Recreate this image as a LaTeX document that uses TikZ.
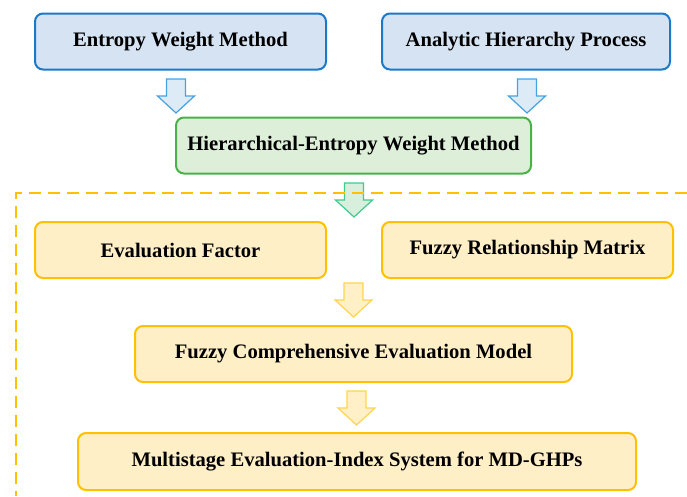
\documentclass[tikz,border=0pt]{standalone}
\usepackage{fontspec}
\setmainfont{Liberation Serif}
\definecolor{bfill}{HTML}{D6E3F3}
\definecolor{bdraw}{HTML}{1C78C8}
\definecolor{gfill}{HTML}{DDEFD9}
\definecolor{gdraw}{HTML}{4CB04A}
\definecolor{yfill}{HTML}{FFEFC6}
\definecolor{ydraw}{HTML}{FFC000}
\definecolor{bafill}{HTML}{DDEBF7}
\definecolor{badraw}{HTML}{45A2E0}
\definecolor{gafill}{HTML}{D9EFDD}
\definecolor{gadraw}{HTML}{3FCB8C}
\definecolor{yafill}{HTML}{FFF0C8}
\definecolor{yadraw}{HTML}{FFD44F}
\begin{document}
\begin{tikzpicture}[x=1pt,y=-1pt,
  box/.style={rectangle,rounded corners=8pt,line width=2pt,inner sep=0pt,
    minimum height=56pt,font=\fontsize{20.6}{24}\selectfont\bfseries},
  bluebox/.style={box,fill=bfill,draw=bdraw},
  greenbox/.style={box,fill=gfill,draw=gdraw},
  yellowbox/.style={box,fill=yfill,draw=ydraw},
  arr/.style={line width=1.2pt,line join=miter},
]
\useasboundingbox (0,0) rectangle (687,496);
% boxes
\node[bluebox,minimum width=291pt] (ewm) at (180.5,41.5) {Entropy Weight Method};
\node[bluebox,minimum width=288pt] (ahp) at (526,41.5) {Analytic Hierarchy Process};
\node[greenbox,minimum width=355pt] (hewm) at (353.5,145.5) {Hierarchical-Entropy Weight Method};
\node[yellowbox,minimum width=291pt] (ef) at (180.5,250) {Evaluation Factor};
\node[yellowbox,minimum width=291pt] (frm) at (527.5,250) {Fuzzy Relationship Matrix};
\node[yellowbox,minimum width=437pt] (fcem) at (353.5,354) {Fuzzy Comprehensive Evaluation Model};
\node[yellowbox,minimum width=558pt,minimum height=57pt] (meis) at (357,461.5) {Multistage Evaluation-Index System for MD-GHPs};
% block arrows
\newcommand{\blockarrow}[4]{% cx, top, fill, draw
  \draw[arr,fill=#3,draw=#4] (#1-9.5,#2) -- (#1+9.5,#2) -- (#1+9.5,#2+17) -- (#1+18.5,#2+17) -- (#1,#2+34) -- (#1-18.5,#2+17) -- (#1-9.5,#2+17) -- cycle;}
\blockarrow{176}{79}{bafill}{badraw}
\blockarrow{527}{79}{bafill}{badraw}
\blockarrow{354}{183}{gafill}{gadraw}
\blockarrow{353.5}{283}{yafill}{yadraw}
\blockarrow{356.5}{391}{yafill}{yadraw}
% dashed frame
\coordinate (fr) at (687,193);
\coordinate (fc) at (16,193);
\coordinate (fb) at (16,496);
\draw[ydraw,line width=2pt,dash pattern=on 12pt off 7pt] (fr) -- (fc) -- (fb);
\end{tikzpicture}
\end{document}
